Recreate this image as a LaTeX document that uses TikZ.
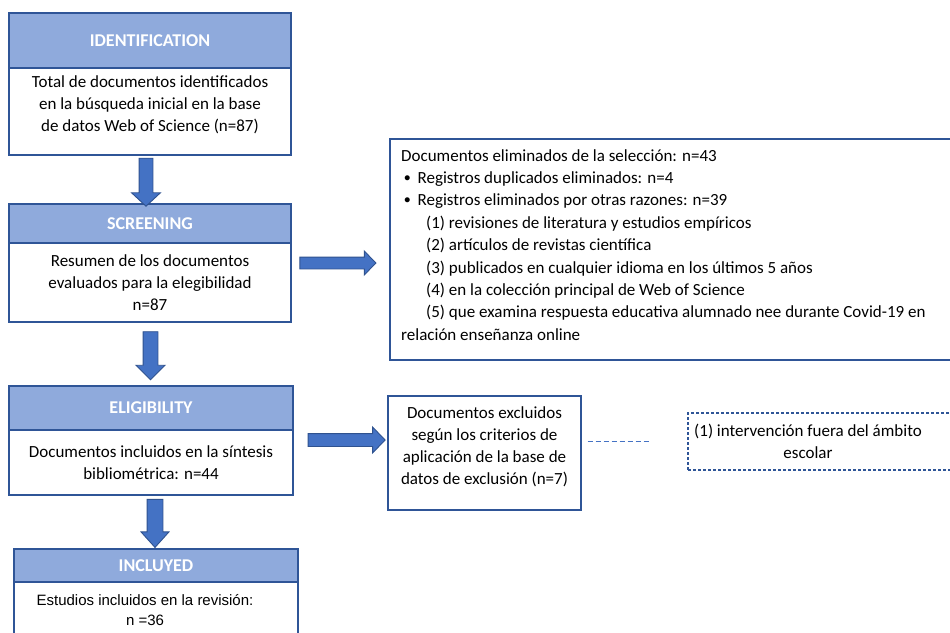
\documentclass[tikz,border=0pt]{standalone}
\usepackage{fontspec}
\setmainfont{Carlito}
\newfontfamily\arialf{Liberation Sans}
\usetikzlibrary{shapes.arrows}
\definecolor{hdr}{HTML}{8FAADC}
\definecolor{bord}{HTML}{2F5597}
\definecolor{arr}{HTML}{4472C4}
\definecolor{arrb}{HTML}{2F528F}
\newcommand{\mybul}{\hspace*{3pt}\raisebox{0.25ex}{\scalebox{0.75}{$\bullet$}}\hspace{7pt}}
\begin{document}
\begin{tikzpicture}[x=1pt,y=-1pt,
  hdrbox/.style={draw=bord, line width=1.3pt, fill=hdr, text=white, font=\bfseries\fontsize{18}{20}\selectfont, inner sep=0pt},
  bodybox/.style={draw=bord, line width=1.3pt, fill=white, font=\fontsize{17}{22}\selectfont, align=center, inner sep=0pt},
  blockarr/.style={single arrow, draw=arrb, fill=arr, line width=0.9pt, inner xsep=0pt, anchor=center},
  dashbox/.style={draw=bord, line width=1.3pt, dash pattern=on 3pt off 2pt, inner sep=0pt},
  dashconn/.style={draw=arr, line width=1.8pt, dash pattern=on 5pt off 3pt}
]
\useasboundingbox (0,0) rectangle (950,632);
\clip (0,0) rectangle (950,632);
\fill[white] (0,0) rectangle (950,632);

% IDENTIFICATION
\node[hdrbox, minimum width=282pt, minimum height=55pt] (idh) at (150,40.5) {IDENTIFICATION};
\node[bodybox, minimum width=282pt, minimum height=87pt] (idb) at (150,111.5) {Total de documentos identificados\\en la búsqueda inicial en la base\\de datos Web of Science (n=87)\rule{0pt}{0pt}\\[-6pt]\mbox{}};

% SCREENING
\node[hdrbox, minimum width=282pt, minimum height=39pt] (sch) at (150,223.5) {SCREENING};
\node[bodybox, minimum width=282pt, minimum height=79pt] (scb) at (150,282.5) {Resumen de los documentos\\evaluados para la elegibilidad\\n=87};

% ELIGIBILITY
\node[hdrbox, minimum width=284pt, minimum height=44pt] (elh) at (151,408) {ELIGIBILITY};
\node[bodybox, minimum width=284pt, minimum height=65pt] (elb) at (151,462.5) {Documentos incluidos en la síntesis\\bibliométrica: n=44};

% INCLUYED
\node[hdrbox, minimum width=284pt, minimum height=33pt] (inh) at (156,565.5) {INCLUYED};
\node[bodybox, minimum width=284pt, minimum height=58pt] (inb) at (156,611) {};
\node[font=\arialf\fontsize{15}{20}\selectfont, align=center, inner sep=0pt] (inbt) at (145,610) {Estudios incluidos en la revisión:\\n =36};

% Big exclusion box
\node[bodybox, minimum width=570pt, minimum height=221pt] (exc1) at (675,249.5) {};
\node[anchor=north west, align=left, inner sep=0pt, font=\fontsize{17}{22.4}\selectfont] (exc1t) at (401,149) {%
Documentos eliminados de la selección: n=43\\
\mybul Registros duplicados eliminados: n=4\\
\mybul Registros eliminados por otras razones: n=39\\
\hspace*{25pt}(1) revisiones de literatura y estudios empíricos\\
\hspace*{25pt}(2) artículos de revistas científica\\
\hspace*{25pt}(3) publicados en cualquier idioma en los últimos 5 años\\
\hspace*{25pt}(4) en la colección principal de Web of Science\\
\hspace*{25pt}(5) que examina respuesta educativa alumnado nee durante Covid-19 en\\
relación enseñanza online};

% Excluded box
\node[bodybox, minimum width=193pt, minimum height=114pt] (exc2) at (484.5,453) {Documentos excluidos\\según los criterios de\\aplicación de la base de\\datos de exclusión (n=7)\\[-8pt]\mbox{}};

% Dashed box
\node[dashbox, minimum width=272pt, minimum height=57pt] (dbox) at (824,441.5) {};
\node[font=\fontsize{17}{22}\selectfont, align=center, inner sep=0pt] (dboxt) at (808,441.5) {(1) intervención fuera del ámbito\\escolar};

% dashed connector
\draw[dashconn] ([xshift=6pt]exc2.east |- dbox.west) -- ([xshift=-36pt]dbox.west);

% block arrows
\node[blockarr, rotate=-90, minimum height=48pt, inner ysep=6.5pt, single arrow head extend=7.5pt, single arrow tip angle=94] (a1) at (146,179) {};
\node[blockarr, rotate=-90, minimum height=48pt, inner ysep=7pt, single arrow head extend=7pt, single arrow tip angle=90] (a2) at (150.5,352) {};
\node[blockarr, rotate=-90, minimum height=48pt, inner ysep=7.5pt, single arrow head extend=6pt, single arrow tip angle=84] (a3) at (155,519) {};
\node[blockarr, minimum height=76pt, inner ysep=5.5pt, single arrow head extend=6pt, single arrow tip angle=92] (a4) at (335,263) {};
\node[blockarr, minimum height=77pt, inner ysep=6pt, single arrow head extend=6.5pt, single arrow tip angle=92] (a5) at (343.5,440) {};
\end{tikzpicture}
\end{document}
